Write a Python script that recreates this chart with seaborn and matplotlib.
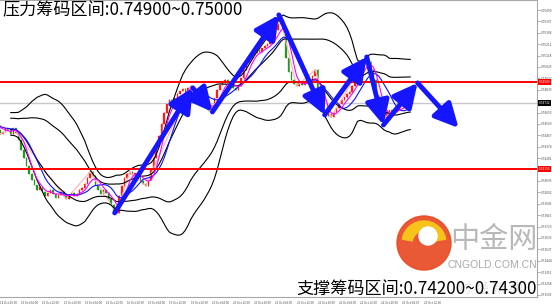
import numpy as np
import pandas as pd
import matplotlib
matplotlib.use("Agg")
import matplotlib.pyplot as plt
import matplotlib.transforms as mtrans
from matplotlib.patches import Circle, Wedge
import seaborn as sns

# ---------------- data ----------------
warmup_closes = [0.74552, 0.74577, 0.74609, 0.74593, 0.74634, 0.74658, 0.74625, 0.74593,
                 0.74609, 0.74577, 0.74552, 0.74527, 0.74560, 0.74593, 0.74609, 0.74577,
                 0.74544, 0.74511, 0.74527, 0.74552, 0.74577, 0.74544, 0.74511, 0.74479,
                 0.74495, 0.74527, 0.74511, 0.74479]
closes = [0.74527, 0.74487, 0.74430, 0.74348, 0.74283, 0.74217, 0.74152, 0.74103, 0.74062, 0.74022,
          0.74046, 0.74005, 0.73973, 0.73997, 0.74022, 0.73989, 0.73956, 0.73981, 0.74005, 0.73973,
          0.73948, 0.73981, 0.73997, 0.73973, 0.73989, 0.74022, 0.74038, 0.74071, 0.74120, 0.74169,
          0.74136, 0.74062, 0.74022, 0.73989, 0.74022, 0.73997, 0.73948, 0.73899, 0.73850, 0.73834,
          0.73973, 0.74054, 0.74120, 0.74152, 0.74169, 0.74144, 0.74160, 0.74136, 0.74095, 0.74071,
          0.74054, 0.74103, 0.74185, 0.74283, 0.74381, 0.74462, 0.74560, 0.74650, 0.74723, 0.74756,
          0.74723, 0.74772, 0.74805, 0.74829, 0.74846, 0.74821, 0.74854, 0.74870, 0.74838, 0.74805,
          0.74780, 0.74756, 0.74723, 0.74691, 0.74666, 0.74691, 0.74772, 0.74838, 0.74878, 0.74895,
          0.74919, 0.74887, 0.74870, 0.74854, 0.74838, 0.74870, 0.74935, 0.75001, 0.75066, 0.75099,
          0.75123, 0.75140, 0.75164, 0.75148, 0.75180, 0.75197, 0.75213, 0.75229, 0.75262, 0.75327,
          0.75376, 0.75409, 0.75344, 0.75099, 0.74985, 0.74919, 0.74887, 0.74870, 0.74903, 0.74878,
          0.74895, 0.74919, 0.74887, 0.74952, 0.75001, 0.74838, 0.74723, 0.74658, 0.74625, 0.74642,
          0.74617, 0.74658, 0.74691, 0.74723, 0.74756, 0.74780, 0.74805, 0.74821, 0.74870, 0.74919,
          0.74968, 0.75017, 0.75050, 0.75082, 0.75066, 0.75001, 0.74919, 0.74789, 0.74691, 0.74625,
          0.74609, 0.74658, 0.74674, 0.74642, 0.74658, 0.74691, 0.74707, 0.74723, 0.74707, 0.74732,
          0.74732]

resistance_line = 0.74903
support_line = 0.74193
current_price = 0.74732

arrow_idx = [38.3, 67.8, 75.2, 100.3, 117.6, 133.5, 139.8, 152.7, 168.2]
arrow_price = [0.73834, 0.74854, 0.74658, 0.75450, 0.74634, 0.75107, 0.74552, 0.74895, 0.74527]

ytick_values = [0.75490, 0.75397, 0.75304, 0.75211, 0.75118, 0.75025, 0.74932, 0.74839,
                0.74653, 0.74560, 0.74467, 0.74374, 0.74281, 0.74095, 0.74002, 0.73909,
                0.73816, 0.73723, 0.73630, 0.73537, 0.73444, 0.73351, 0.73258, 0.73165]
xtick_idx = [-5, 3, 11, 19, 27, 35, 43, 51, 59, 67, 75, 83, 91, 99, 107, 115, 123, 131, 139, 147, 155]
xtick_labels = ["14 Oct 20:00", "15 Oct 04:00", "15 Oct 12:00", "15 Oct 20:00", "16 Oct 04:00",
                "16 Oct 12:00", "16 Oct 20:00", "19 Oct 04:00", "19 Oct 12:00", "19 Oct 20:00",
                "20 Oct 04:00", "20 Oct 12:00", "20 Oct 20:00", "21 Oct 04:00", "21 Oct 12:00",
                "21 Oct 20:00", "22 Oct 04:00", "22 Oct 12:00", "22 Oct 20:00", "23 Oct 04:00",
                "23 Oct 12:00"]

title_top = "压力筹码区间:0.74900~0.75000"
title_bottom = "支撑筹码区间:0.74200~0.74300"

# ---------------- style ----------------
sns.set_theme(style="white")
plt.rcParams["font.family"] = ["Noto Sans CJK SC", "DejaVu Sans"]

fig = plt.figure(figsize=(5.52, 3.05), dpi=100)
fig.patch.set_facecolor("white")
ax = fig.add_axes([0, 8 / 305, 537 / 552, 297 / 305])
ax.set_facecolor("white")

all_closes = warmup_closes + closes
all_idx = np.arange(-len(warmup_closes), len(closes))
s = pd.Series(all_closes, dtype=float)
opens = pd.Series([all_closes[0]] + all_closes[:-1], dtype=float)

df = pd.DataFrame({"idx": all_idx, "close": s, "open": opens})
df["ma5"] = s.rolling(5).mean()
df["ma10"] = s.rolling(10).mean()
mid = s.rolling(28).mean()
sd = s.rolling(28).std(ddof=0)
df["bb_up2"] = mid + 2 * sd
df["bb_lo2"] = mid - 2 * sd
df["bb_up1"] = mid + 1 * sd
df["bb_lo1"] = mid - 1 * sd

# candles
up = df["close"] >= df["open"]
pad = 0.00004
body_lo = np.minimum(df["open"], df["close"])
body_hi = np.maximum(df["open"], df["close"])
for is_up, col in [(True, "#ff1a1a"), (False, "#1e9b1e")]:
    m = up == is_up
    ax.vlines(df["idx"][m], body_lo[m] - pad, body_hi[m] + pad, color=col, lw=0.5, zorder=2)
    ax.bar(df["idx"][m], np.maximum(body_hi[m] - body_lo[m], 0.000015), bottom=body_lo[m],
           width=0.55, color=col, edgecolor=col, lw=0.2, zorder=2)

# zigzag (pale pink)
rmax = s.rolling(13, center=True, min_periods=1).max()
rmin = s.rolling(13, center=True, min_periods=1).min()
piv = []
for k in range(len(s)):
    if s[k] == rmax[k]:
        t = "H"
    elif s[k] == rmin[k]:
        t = "L"
    else:
        continue
    if piv and piv[-1][2] == t:
        if (t == "H" and s[k] > piv[-1][1]) or (t == "L" and s[k] < piv[-1][1]):
            piv[-1] = (k, s[k], t)
    else:
        piv.append((k, s[k], t))
zz = pd.DataFrame({"idx": [all_idx[p[0]] for p in piv], "v": [p[1] for p in piv]})
sns.lineplot(data=zz, x="idx", y="v", ax=ax, color="#ffb3b3", lw=0.8, estimator=None, sort=False, zorder=3)

# bands and averages
for col in ["bb_up2", "bb_lo2", "bb_up1", "bb_lo1"]:
    sns.lineplot(data=df, x="idx", y=col, ax=ax, color="black", lw=0.8, estimator=None, zorder=3)
sns.lineplot(data=df, x="idx", y="ma10", ax=ax, color="#1010ff", lw=0.8, estimator=None, zorder=4)
sns.lineplot(data=df, x="idx", y="ma5", ax=ax, color="#ff00ff", lw=0.8, estimator=None, zorder=4)

# horizontal lines
ax.axhline(current_price, color="#c8c8c8", lw=1.0, zorder=1)
ax.axhline(resistance_line, color="#ff0000", lw=1.4, zorder=5)
ax.axhline(support_line, color="#ff0000", lw=1.4, zorder=5)

# blue arrows
for k in range(len(arrow_idx) - 1):
    ax.annotate("", xy=(arrow_idx[k + 1], arrow_price[k + 1]), xytext=(arrow_idx[k], arrow_price[k]),
                arrowprops=dict(arrowstyle="-|>,head_length=0.9,head_width=0.45", lw=3.5,
                                color="#1515ff", shrinkA=0, shrinkB=0, mutation_scale=16),
                zorder=6)

# axes
ax.set_xlim(-0.52, 197.8)
ax.set_ylim(0.731481, 0.755716)
ax.set_xlabel("")
ax.set_ylabel("")
ax.yaxis.tick_right()
ax.set_yticks(ytick_values)
ax.set_yticklabels([f"{v:.5f}" for v in ytick_values])
ax.set_xticks(xtick_idx)
ax.set_xticklabels(xtick_labels, ha="left")
ax.tick_params(axis="y", labelsize=2.3, length=2, width=0.5, color="#909090", labelcolor="#505050", pad=1)
ax.tick_params(axis="x", labelsize=2.2, length=2, width=0.5, color="#909090", labelcolor="#505050", pad=1)
for sp in ["top", "right", "bottom"]:
    ax.spines[sp].set_color("#a8a8a8")
    ax.spines[sp].set_linewidth(0.8)
ax.spines["left"].set_visible(False)

blend = mtrans.blended_transform_factory(ax.transAxes, ax.transData)
for v, bg in [(resistance_line, "#ff0000"), (support_line, "#ff0000"), (current_price, "black")]:
    ax.text(1.003, v, f"{v:.5f}", transform=blend, fontsize=2.3, color="white", va="center",
            ha="left", bbox=dict(facecolor=bg, edgecolor="none", pad=0.5), zorder=7)

# overlay for texts / watermark (pixel coordinates)
ov = fig.add_axes([0, 0, 1, 1])
ov.set_xlim(0, 552)
ov.set_ylim(305, 0)
ov.axis("off")

ov.add_patch(Circle((424, 243), 27, color="#e8471f", alpha=0.9, zorder=1))
ov.add_patch(Wedge((424, 243), 22, 190, 350, width=10, color="#f7c21a", zorder=2))
ov.add_patch(Circle((428, 236), 9, color="white", zorder=3))
ov.text(494, 240, "中金网", fontsize=21, color="#b8b8b8", ha="center", va="center", zorder=2)
ov.text(492, 265, "CNGOLD.COM.CN", fontsize=7.5, color="#a8a8a8", ha="center", va="center",
        family=["Liberation Sans", "DejaVu Sans"], zorder=2)
ov.text(490, 289, "财 经 新 闻", fontsize=10, color="#e6e6e6", ha="center", va="center", zorder=2)

ov.text(2, 10, title_top, fontsize=12.3, color="black", ha="left", va="center", zorder=5)
ov.text(296, 289, title_bottom, fontsize=12.3, color="black", ha="left", va="center", zorder=5)

fig.savefig("out.png", dpi=100, facecolor="white")
